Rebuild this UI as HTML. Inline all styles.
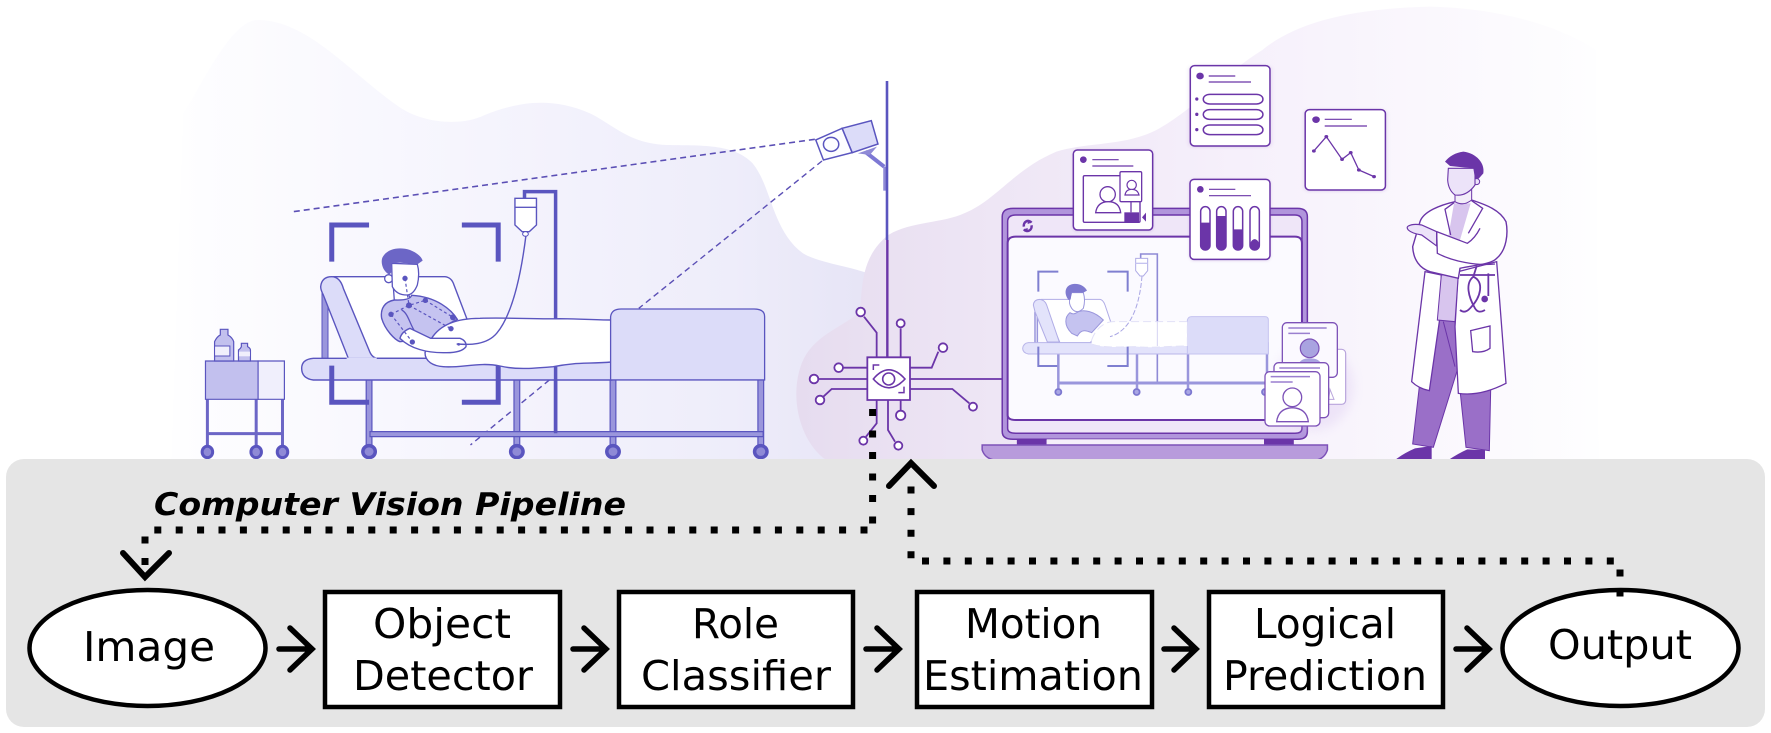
<!DOCTYPE html>
<html><head><meta charset="utf-8"><style>
html,body{margin:0;padding:0;background:#fff}
svg{display:block}
svg *{vector-effect:non-scaling-stroke}
text{font-family:"DejaVu Sans","Liberation Sans",sans-serif;fill:#000;text-anchor:middle;font-size:41px}
.b{stroke:#5a55bf;stroke-width:2;fill:none}
.p{stroke:#6b35a8;stroke-width:1.8;fill:none}
.t{stroke:#6b35a8;stroke-width:1.5;fill:#fff}
.n{fill:#fff;stroke:#000;stroke-width:4.5}
.a{fill:none;stroke:#000;stroke-width:5.5;stroke-linecap:round;stroke-linejoin:miter}
.d{fill:none;stroke:#000;stroke-width:7}
</style></head><body>
<svg width="1771" height="733" viewBox="0 0 1771 733" xmlns="http://www.w3.org/2000/svg">
<defs>
<linearGradient id="g1" x1="0" x2="1" y1="0" y2="0"><stop offset="0" stop-color="#fefeff"/><stop offset=".45" stop-color="#f5f4fd"/><stop offset=".8" stop-color="#eeedfa"/><stop offset="1" stop-color="#e6e4f6"/></linearGradient>
<linearGradient id="g2" x1="0" x2="1" y1="0" y2="0"><stop offset="0" stop-color="#e6dcef"/><stop offset=".25" stop-color="#eee6f5"/><stop offset=".55" stop-color="#f6f0fb"/><stop offset="1" stop-color="#fefeff"/></linearGradient>
<filter id="sh" x="-20%" y="-20%" width="140%" height="140%"><feDropShadow dx="0" dy="2" stdDeviation="4" flood-color="#6b35a8" flood-opacity=".18"/></filter>
<filter id="bl" x="-50%" y="-50%" width="200%" height="200%"><feGaussianBlur stdDeviation="16"/></filter>
</defs>

<!-- left blob -->
<g transform="translate(150,0) scale(.4783,.3333)">
<path fill="url(#g1)" d="M45,1380 L70,340 C110,250 170,60 225,60 C330,60 420,220 520,320 C570,370 650,380 700,345 C770,305 840,290 920,340 C970,375 1000,430 1080,435 C1150,437 1220,430 1260,490 C1300,560 1300,690 1365,760 C1400,790 1470,800 1510,825 L1510,1380 Z"/>
</g>
<!-- middle/right blob -->
<g transform="translate(780,0) scale(.542,.3333)">
<path fill="url(#g2)" d="M85,1380 C40,1330 15,1200 40,1090 C60,1010 110,985 145,940 C155,900 140,780 200,705 C240,665 300,670 340,640 C400,600 430,510 510,455 C570,425 640,440 700,385 C770,320 820,220 890,150 C950,70 1050,25 1200,20 C1320,25 1430,70 1505,150 L1510,1380 Z"/>
</g>

<!-- left scene -->
<g transform="translate(150,0) scale(.4783,.3333)">
<path d="M1390,418 L300,635" stroke="#5b4fb5" stroke-width="1.6" stroke-dasharray="6 4" fill="none"/>
<path d="M1405,483 L1022,925 M835,1140 L670,1335" stroke="#5b4fb5" stroke-width="1.4" stroke-dasharray="6 4" fill="none"/>
<path d="M1495,455 L1535,500" stroke="#7d78d4" stroke-width="4" fill="none"/>
<rect x="1533" y="500" width="8" height="72" fill="#8f8ad6"/>
<path d="M1480,460 L1520,440 L1505,465 Z" fill="#8f8ad6"/>
<path class="b" style="fill:#dcdcf9;stroke-width:1.5" d="M1447,385 L1508,362 L1522,432 L1468,458 Z"/>
<path class="b" style="fill:#fdfdff;stroke-width:1.5" d="M1392,420 L1447,385 L1468,458 L1408,480 Z"/>
<ellipse cx="1424" cy="433" rx="16" ry="21" class="b" style="stroke-width:1.5"/>
<path d="M848,1310 V575 H783 V595" fill="none" stroke="#5a55bf" stroke-width="3.5"/>
<g fill="#9a96dc" stroke="#5a55bf" stroke-width="1.2">
<rect x="452" y="1138" width="12" height="205"/><rect x="761" y="1138" width="12" height="205"/><rect x="962" y="1138" width="12" height="205"/><rect x="1271" y="1138" width="12" height="205"/>
<rect x="460" y="1295" width="822" height="15"/>
</g>
<g fill="#8f8ad6" stroke="#5a55bf" stroke-width="3.5">
<ellipse cx="458" cy="1355" rx="13" ry="18"/><ellipse cx="767" cy="1355" rx="13" ry="18"/><ellipse cx="968" cy="1355" rx="13" ry="18"/><ellipse cx="1277" cy="1355" rx="13" ry="18"/>
</g>
<!-- cart -->
<g fill="none" stroke="#6c66c6" stroke-width="3"><path d="M120,1198 V1345 M222,1198 V1345 M277,1198 V1345 M120,1301 H277"/></g>
<rect x="116" y="1083" width="110" height="115" fill="#c2c0ee" stroke="#5a55bf" stroke-width="1.2"/>
<rect x="226" y="1083" width="55" height="115" fill="#f0effc" stroke="#5a55bf" stroke-width="1.2"/>
<g fill="#8f8ad6" stroke="#5a55bf" stroke-width="3"><ellipse cx="120" cy="1356" rx="11" ry="17"/><ellipse cx="222" cy="1356" rx="11" ry="17"/><ellipse cx="277" cy="1356" rx="11" ry="17"/></g>
<path class="b" style="fill:#c2c0ee;stroke-width:1.2" d="M135,1083 V1025 Q140,1010 147,1005 V988 H163 V1005 Q172,1012 175,1025 V1083 Z"/>
<rect x="135" y="1038" width="32" height="30" fill="#f0effc" stroke="#5a55bf" stroke-width="1"/>
<path class="b" style="fill:#c2c0ee;stroke-width:1.2" d="M185,1083 V1050 Q190,1045 191,1040 V1030 H204 V1040 Q210,1045 210,1050 V1083 Z"/>
<rect x="186" y="1055" width="23" height="14" fill="#f0effc"/>
</g>

<!-- patient, true pixel crop coords -->
<g transform="translate(300,230) scale(.33333)">
<rect x="66" y="190" width="18" height="195" fill="#9a96dc" stroke="#5a55bf" stroke-width="1"/>
<path class="b" style="fill:#fff;stroke-width:1.4" d="M100,140 H435 Q455,142 462,165 L502,270 L420,385 H200 Z"/>
<path class="b" style="fill:#dcdcf9;stroke-width:1.4" d="M40,385 H144 L232,385 H935 V450 H40 Q5,445 5,415 Q5,388 40,385 Z"/>
<path class="b" style="fill:#dcdcf9;stroke-width:1.4" d="M62,170 Q65,140 95,140 Q120,140 130,175 L207,360 Q215,383 232,385 H145 L70,195 Q62,180 62,170 Z"/>
<path d="M140,383 H230 V388 H140 Z" fill="#dcdcf9"/>
<!-- neck -->
<path class="b" style="fill:#fff;stroke-width:1.3" d="M280,170 L283,212 Q305,222 332,212 L325,190 Z"/>
<!-- torso -->
<path class="b" style="fill:#c5c3f0;stroke-width:1.4" d="M283,210 C255,215 240,235 245,265 C255,300 285,330 300,335 L395,325 C410,300 440,285 472,268 C455,240 410,200 335,196 Q330,212 283,210 Z"/>
<path class="b" style="stroke-width:1.3" d="M305,240 C325,250 330,285 345,305 L392,325"/>
<!-- blanket -->
<path class="b" style="fill:#fff;stroke-width:1.4" d="M395,325 C420,285 470,265 540,265 C620,262 700,268 780,266 C830,266 880,270 935,270 V396 C860,402 830,396 760,410 C700,415 650,420 600,408 C540,395 480,415 430,410 C400,408 375,395 375,368 Z"/>
<!-- forearm -->
<path class="b" style="fill:#fff;stroke-width:1.4" d="M300,325 Q305,305 330,295 L392,325 H480 Q500,332 498,350 Q485,368 440,368 C380,370 330,355 300,325 Z"/>
<!-- tube -->
<path d="M678,15 C665,120 640,250 590,310 C560,345 510,345 470,342" fill="none" stroke="#5a55bf" stroke-width="1.4"/>
<!-- face/hair -->
<circle cx="266" cy="146" r="12" fill="#fff" stroke="#5a55bf" stroke-width="1.3"/>
<path class="b" style="fill:#fff;stroke-width:1.3" d="M275,100 L352,103 Q360,130 352,165 Q340,195 320,195 Q290,195 277,170 Z"/>
<path d="M268,134 C245,122 240,90 250,78 C265,55 300,50 330,60 C350,68 365,80 368,92 L352,103 L300,98 L275,100 L276,125 Z" fill="#6c66c6"/>
<!-- landmarks -->
<path d="M315,145 L327,226 L453,296 M376,211 L459,262 M273,253 L337,336 M273,253 L327,226 L376,211" fill="none" stroke="#5a55bf" stroke-width="1.2" stroke-dasharray="3 2.5"/>
<g fill="#5a55bf"><circle cx="315" cy="145" r="8"/><circle cx="327" cy="226" r="9"/><circle cx="376" cy="211" r="8"/><circle cx="273" cy="253" r="8"/><circle cx="459" cy="262" r="9"/><circle cx="453" cy="296" r="8"/><circle cx="337" cy="336" r="8"/><circle cx="476" cy="343" r="4"/></g>
</g>
<!-- footboard, IV bag & brackets -->
<g transform="translate(150,0) scale(.4783,.3333)">
<path class="b" style="fill:#dcdcf9;stroke-width:1.3" d="M963,1140 V950 Q965,927 985,927 H1263 Q1285,927 1285,950 V1140 Z"/>
<path d="M848,1100 V1300" fill="none" stroke="#5a55bf" stroke-width="3.5"/>
<path class="b" style="fill:#fff;stroke-width:1.4" d="M763,595 H808 V675 L793,695 H778 L763,675 Z"/>
<rect x="763" y="620" width="45" height="4" fill="#5a55bf"/>
<ellipse cx="785" cy="702" rx="6" ry="7" class="b" style="fill:#fff;stroke-width:1"/>
<path d="M458,675 H380 V785 M652,675 H728 V785 M380,1097 V1207 H458 M728,1097 V1207 H652" fill="none" stroke="#5a55bf" stroke-width="5"/>
</g>

<!-- laptop etc. -->
<g transform="translate(780,0) scale(.542,.3333)">
<path d="M430,625 H955 Q973,625 973,650 V1295 Q973,1318 955,1318 H430 Q410,1318 410,1295 V650 Q410,625 430,625 Z" fill="#b195dc" stroke="#6b35a8" stroke-width="1.5"/>
<path d="M435,645 H950 Q963,645 963,665 V1285 Q963,1300 950,1300 H435 Q420,1300 420,1285 V665 Q420,645 435,645 Z" fill="#efe6f8" stroke="#6b35a8" stroke-width="1.5"/>
<path d="M435,710 H950 Q963,710 963,730 V1245 Q963,1260 950,1260 H435 Q420,1260 420,1245 V730 Q420,710 435,710 Z" fill="#fbfaff" stroke="#6b35a8" stroke-width="2"/>
<rect x="437" y="1318" width="55" height="17" fill="#6b35a8"/><rect x="893" y="1318" width="55" height="17" fill="#6b35a8"/>
<rect x="492" y="1318" width="401" height="17" fill="#f5effa"/>
<path d="M373,1335 H1010 V1350 Q1005,1375 990,1380 H395 Q378,1375 373,1350 Z" fill="#b89bdc" stroke="#7d52b8" stroke-width="1.5"/>
<path d="M464,668 A8,14 0 0 0 450,680 M450,688 A8,14 0 0 0 464,676" fill="none" stroke="#6b35a8" stroke-width="2.5"/>
<path d="M457,660 L464,668 L457,672 Z M457,696 L450,688 L457,684 Z" fill="#6b35a8"/>
</g>

<!-- mini scene -->
<g transform="translate(1020,240) scale(.33333)">
<ellipse cx="880" cy="440" rx="120" ry="130" fill="#d9c6f0" opacity=".35" filter="url(#bl)"/>
<path d="M412,430 V42 H362 V55" fill="none" stroke="#8f8ad6" stroke-width="1.6"/>
<path d="M45,215 V308 M52,215 V308" stroke="#9a96dc" stroke-width="1.5"/>
<path d="M115,342 V445 M351,342 V445 M504,342 V445 M741,342 V445" fill="none" stroke="#9a96dc" stroke-width="2.5"/>
<path d="M118,429 H745" stroke="#9a96dc" stroke-width="3"/>
<g fill="#a9a6e4" stroke="#7d78d0" stroke-width="1.8"><circle cx="115" cy="456" r="9"/><circle cx="350" cy="456" r="9"/><circle cx="505" cy="456" r="9"/><circle cx="735" cy="456" r="9"/></g>
<path d="M65,178 H240 Q250,180 255,195 L272,245 L210,308 H120 Z" fill="#fff" stroke="#b0ace6" stroke-width="1"/>
<path d="M25,308 H745 V342 H25 Q8,338 8,325 Q10,310 25,308 Z" fill="#e3e3fb" stroke="#b9b6ea" stroke-width="1"/>
<path d="M40,195 Q42,178 60,178 Q75,180 80,195 L118,306 H82 L45,215 Z" fill="#e3e3fb" stroke="#b0ace6" stroke-width="1"/>
<path d="M502,342 V240 Q505,230 515,230 H735 Q745,230 745,240 V342 Z" fill="#dcdcf9" stroke="#c5c3f0" stroke-width="1"/>
<path d="M155,200 H190 V222 H155 Z" fill="#fff"/>
<path d="M150,218 C135,230 130,255 155,280 L172,288 C185,265 200,272 215,278 L250,240 C225,215 190,205 170,218 Q160,225 150,218 Z" fill="#c5c3f0" stroke="#9a96dc" stroke-width="1"/>
<path d="M155,158 L190,158 Q197,180 190,205 Q170,225 155,205 Q145,190 150,175 Z" fill="#fff" stroke="#9a96dc" stroke-width="1"/>
<path d="M146,180 C130,160 135,135 160,132 C180,130 195,140 201,152 L190,158 H155 L152,178 Z" fill="#7f7ad0"/>
<path d="M215,300 C225,270 250,245 280,245 H502 V318 C440,318 400,325 350,320 C300,320 250,325 215,312 Z" fill="#fff" stroke="#e2e1f8" stroke-width="1" stroke-dasharray="8 4"/>
<path d="M412,245 V318" stroke="#d5d3f3" stroke-width="1"/>
<path d="M366,108 C360,180 340,270 270,290" fill="none" stroke="#a9a6e4" stroke-width="1" stroke-dasharray="5 2"/>
<path d="M347,55 H383 V92 L370,108 L360,108 L347,92 Z" fill="#fff" stroke="#b0ace6" stroke-width="1"/>
<rect x="347" y="68" width="36" height="4" fill="#c5c3f0"/>
<path d="M55,155 V95 H115 M262,95 H323 V155 M55,320 V378 H112 M262,378 H323 V320" fill="none" stroke="#7f7fd0" stroke-width="2"/>

<!-- profile cards -->
<rect x="900" y="328" width="77" height="165" rx="12" fill="#fff" stroke="#b9a5dc" stroke-width="1.2"/>
<rect x="787" y="248" width="165" height="164" rx="14" fill="#fbf9ff" stroke="#7d52b8" stroke-width="1.3"/>
<path d="M805,264 H920 M805,280 H870" stroke="#9a7fcf" stroke-width="1.5"/>
<circle cx="869" cy="325" r="28" fill="#a9a3e0" stroke="#7d52b8" stroke-width="1.2"/>
<path d="M835,375 Q840,355 869,355 Q900,355 905,375 Z" fill="#a9a3e0"/>
<path d="M926,478 H942 L930,448 Z" fill="#fff" stroke="#b9a5dc" stroke-width="1"/>
<rect x="762" y="368" width="164" height="165" rx="14" fill="#fff" stroke="#7d52b8" stroke-width="1.3"/>
<path d="M778,384 H900" stroke="#9a7fcf" stroke-width="1.5"/>
<rect x="735" y="395" width="165" height="163" rx="14" fill="#fff" stroke="#7d52b8" stroke-width="1.3"/>
<path d="M752,410 H870 M752,426 H818" stroke="#9a7fcf" stroke-width="1.5"/>
<circle cx="817" cy="472" r="28" fill="#fff" stroke="#7d52b8" stroke-width="1.3"/>
<path d="M770,545 Q775,505 817,503 Q860,505 865,545 Z" fill="#fff" stroke="#7d52b8" stroke-width="1.3"/>
</g>

<!-- pole upper part -->
<path d="M887,81 V240" stroke="#5a55bf" stroke-width="2.6" fill="none"/>
<!-- chip -->
<g transform="translate(790,290) scale(.33333)">
<path d="M292,-150 V202" stroke="#6b35a8" stroke-width="2.4" fill="none"/>
<g class="p">
<path d="M222,80 L260,128 V202 M332,115 V202 M445,185 L425,233 H360 M160,233 H232 M85,267 H232 M100,320 L125,297 H232 M538,340 L487,297 H360 M360,267 H636 M332,330 V362 M228,440 L260,400 V330 M315,455 L294,420 V330"/>
<g fill="#fff"><circle cx="212" cy="66" r="13"/><circle cx="332" cy="100" r="12"/><circle cx="459" cy="173" r="13"/><circle cx="146" cy="233" r="13"/><circle cx="72" cy="267" r="13"/><circle cx="90" cy="330" r="13"/><circle cx="549" cy="350" r="12"/><circle cx="332" cy="376" r="14"/><circle cx="220" cy="452" r="12"/><circle cx="325" cy="467" r="12"/></g>
</g>
<rect x="232" y="202" width="128" height="128" fill="#fff" stroke="#6b35a8" stroke-width="1.8"/>
<path d="M250,240 V225 H268 M342,290 V308 H325" fill="none" stroke="#6b35a8" stroke-width="1.5"/>
<path d="M250,267 Q296,212 345,267 Q296,320 250,267 Z" fill="none" stroke="#6b35a8" stroke-width="1.6"/>
<circle cx="296" cy="267" r="18" fill="none" stroke="#6b35a8" stroke-width="1.6"/>
</g>

<!-- cards -->
<g transform="translate(780,0) scale(.542,.3333)">
<g filter="url(#sh)">
<rect x="757" y="197" width="147" height="241" rx="8" ry="12" class="t"/>
<rect x="969" y="329" width="148" height="241" rx="8" ry="12" class="t"/>
</g>
<ellipse cx="775" cy="228" rx="7" ry="10" fill="#6b35a8"/>
<path d="M791,228 H840 M791,246 H869" class="p" style="stroke-width:1.2"/>
<rect x="781" y="283" width="110" height="29" rx="12" ry="14" class="t"/><rect x="781" y="329" width="110" height="29" rx="12" ry="14" class="t"/><rect x="781" y="375" width="110" height="29" rx="12" ry="14" class="t"/>
<g fill="#6b35a8"><ellipse cx="769" cy="297" rx="3" ry="5"/><ellipse cx="769" cy="343" rx="3" ry="5"/><ellipse cx="769" cy="389" rx="3" ry="5"/></g>
<ellipse cx="989" cy="359" rx="7" ry="10" fill="#6b35a8"/>
<path d="M1005,358 H1055 M1005,378 H1083" class="p" style="stroke-width:1.2"/>
<path d="M985,453 L1008,410 L1037,478 L1053,458 L1068,510 L1096,530" class="p" style="stroke-width:1.3"/>
<g fill="#6b35a8"><ellipse cx="985" cy="453" rx="3.5" ry="5"/><ellipse cx="1008" cy="410" rx="3.5" ry="5"/><ellipse cx="1037" cy="478" rx="3.5" ry="5"/><ellipse cx="1053" cy="458" rx="3.5" ry="5"/><ellipse cx="1068" cy="510" rx="3.5" ry="5"/><ellipse cx="1096" cy="530" rx="3.5" ry="5"/></g>
</g>
<g transform="translate(1060,140) scale(.33333)">
<g filter="url(#sh)">
<rect x="40" y="30" width="238" height="240" rx="12" class="t"/>
<rect x="390" y="118" width="240" height="240" rx="12" class="t"/>
</g>
<circle cx="70" cy="59" r="10" fill="#6b35a8"/>
<path d="M97,59 H176 M97,78 H220" class="p" style="stroke-width:1.2"/>
<rect x="70" y="107" width="170" height="140" rx="4" fill="#fff" stroke="#6b35a8" stroke-width="1.4"/>
<circle cx="143" cy="163" r="23" class="t" style="stroke-width:1.3"/>
<path d="M107,218 Q112,185 145,185 Q178,185 182,218 Z" class="t" style="stroke-width:1.3"/>
<rect x="180" y="95" width="65" height="90" rx="4" class="t" style="stroke-width:1.3"/>
<circle cx="215" cy="135" r="14" class="t" style="stroke-width:1.2"/>
<path d="M195,165 Q198,148 215,148 Q233,148 237,165 Z" class="t" style="stroke-width:1.2"/>
<path d="M213,185 V217" stroke="#6b35a8" stroke-width="1.3"/>
<rect x="193" y="217" width="44" height="30" fill="#6b35a8"/>
<path d="M246,232 L258,218 V245 Z" fill="#6b35a8"/>
<circle cx="421" cy="148" r="10" fill="#6b35a8"/>
<path d="M447,148 H526 M447,167 H573" class="p" style="stroke-width:1.2"/>
<g class="t"><rect x="422" y="200" width="28" height="130" rx="14"/><rect x="470" y="200" width="28" height="130" rx="14"/><rect x="520" y="200" width="28" height="130" rx="14"/><rect x="570" y="200" width="28" height="130" rx="14"/></g>
<g fill="#6b35a8"><path d="M422,248 H450 V316 A14,14 0 0 1 422,316 Z"/><path d="M470,228 H498 V316 A14,14 0 0 1 470,316 Z"/><path d="M520,268 H548 V316 A14,14 0 0 1 520,316 Z"/><path d="M570,310 Q584,285 598,310 V316 A14,14 0 0 1 570,316 Z"/></g>
</g>

<!-- doctor -->
<g transform="translate(1380,140) scale(.33333)">
<path d="M165,540 H225 L232,690 L160,922 L98,912 L118,740 Z" fill="#9a6fc8" stroke="#6b35a8" stroke-width="1"/>
<path d="M190,545 L225,680" stroke="#6b35a8" stroke-width="1" fill="none"/>
<path d="M240,750 L332,750 L328,932 L258,922 Z" fill="#9a6fc8" stroke="#6b35a8" stroke-width="1"/>
<path d="M45,960 Q70,940 105,925 L155,918 V960 Z M205,960 Q235,940 262,928 L315,930 V960 Z" fill="#6b35a8"/>
<path d="M135,395 L95,725 Q115,745 148,752 L178,545 L184,405 Z" fill="#fff" stroke="#6b35a8" stroke-width="1.3"/>
<path d="M235,395 L225,560 L235,760 Q300,770 378,730 L350,365 Z" fill="#fff" stroke="#6b35a8" stroke-width="1.3"/>
<path d="M184,405 L172,540 L225,545 L235,400 Z" fill="#d8c5ee" stroke="#6b35a8" stroke-width="1"/>
<path d="M225,185 C180,195 130,215 120,245 L98,320 C100,360 120,385 150,395 L235,415 L240,385 C280,375 330,375 350,355 C380,330 385,280 378,245 C360,210 320,195 275,180 Z" fill="#fff" stroke="#6b35a8" stroke-width="1.4"/>
<path d="M222,190 H272 L240,300 L205,290 Z" fill="#d8c5ee"/>
<path d="M225,140 V185 Q250,200 275,180 V145 Z" fill="#f3edf9" stroke="#6b35a8" stroke-width="1"/>
<path d="M222,188 L195,208 L212,285 M275,182 L308,205 L265,280" fill="none" stroke="#6b35a8" stroke-width="1.3"/>
<path d="M85,258 Q100,250 125,255 L170,275 V318 L125,285 Q95,280 85,270 Q78,262 85,258 Z" fill="#ece3f9" stroke="#6b35a8" stroke-width="1.2"/>
<path d="M170,275 L262,310 C285,295 295,275 300,265 M170,275 L172,340 C220,365 290,378 345,372" fill="none" stroke="#6b35a8" stroke-width="1.3"/>
<circle cx="290" cy="125" r="9" fill="#ece3f9" stroke="#6b35a8" stroke-width="1"/>
<path d="M205,85 H285 L285,135 Q260,170 225,165 Q205,150 203,120 Z" fill="#ece3f9" stroke="#6b35a8" stroke-width="1.1"/>
<path d="M195,65 Q215,40 250,35 C290,40 315,70 310,100 L295,117 L285,115 L280,85 L210,78 Z" fill="#6b35a8"/>
<path d="M240,405 H345 M290,378 L280,410 C255,430 265,470 285,505 Q295,522 315,510 M280,410 C312,425 305,470 270,505 Q255,522 240,510 M325,400 V468" fill="none" stroke="#6b35a8" stroke-width="1.8"/>
<circle cx="314" cy="477" r="10" fill="#6b35a8"/>
<path d="M272,572 L330,558 V625 Q310,640 278,635 Z" fill="#fff" stroke="#6b35a8" stroke-width="1.3"/>
</g>

<!-- panel -->
<rect x="6" y="459" width="1759" height="268" rx="18" ry="18" fill="#e5e5e5"/>

<!-- nodes -->
<ellipse class="n" cx="147.5" cy="648" rx="118" ry="58"/>
<rect class="n" x="325" y="592" width="235" height="115"/>
<rect class="n" x="619" y="592" width="234" height="115"/>
<rect class="n" x="917" y="592" width="235" height="115"/>
<rect class="n" x="1209" y="592" width="234" height="115"/>
<ellipse class="n" cx="1620.5" cy="648" rx="118" ry="58"/>

<!-- labels -->
<text x="149" y="661" textLength="132" lengthAdjust="spacingAndGlyphs">Image</text>
<text x="442" y="638" textLength="138" lengthAdjust="spacingAndGlyphs">Object</text>
<text x="443" y="690" textLength="180" lengthAdjust="spacingAndGlyphs">Detector</text>
<text x="735.5" y="638" textLength="87" lengthAdjust="spacingAndGlyphs">Role</text>
<text x="736" y="690" textLength="190" lengthAdjust="spacingAndGlyphs">Classifier</text>
<text x="1033.5" y="638" textLength="137" lengthAdjust="spacingAndGlyphs">Motion</text>
<text x="1033" y="690" textLength="220" lengthAdjust="spacingAndGlyphs">Estimation</text>
<text x="1325" y="638" textLength="142" lengthAdjust="spacingAndGlyphs">Logical</text>
<text x="1325" y="690" textLength="204" lengthAdjust="spacingAndGlyphs">Prediction</text>
<text x="1620" y="659" textLength="144" lengthAdjust="spacingAndGlyphs">Output</text>
<text x="154" y="515" textLength="472" lengthAdjust="spacingAndGlyphs" style="text-anchor:start;font-size:31px;font-weight:bold;font-style:italic">Computer Vision Pipeline</text>

<!-- arrows -->
<g class="a">
<path d="M279,649 H311 M290,628 L312,649 L290,670"/>
<path d="M573,649 H605 M584,628 L606,649 L584,670"/>
<path d="M866,649 H898 M877,628 L899,649 L877,670"/>
<path d="M1164,649 H1194 M1174,628 L1196,649 L1174,670"/>
<path d="M1456,649 H1488 M1467,628 L1489,649 L1467,670"/>
<path d="M123,553 L145,577 L169,553" style="stroke-width:6"/>
<path d="M889,486 L911,463 L934,486" style="stroke-width:6"/>
</g>

<!-- dotted -->
<path class="d" d="M872.6,523.5 V409" stroke-dasharray="7 14.5"/>
<path class="d" d="M867.5,530 H148" stroke-dasharray="7 14.4"/>
<path class="d" d="M145,536.5 V566" stroke-dasharray="7 14.5"/>
<path class="d" d="M911,486.5 V559" stroke-dasharray="7 14.6"/>
<path class="d" d="M922,561 H1615" stroke-dasharray="7 14.4"/>
<path class="d" d="M1620,569.5 V597" stroke-dasharray="7 13"/>
</svg>
</body></html>
